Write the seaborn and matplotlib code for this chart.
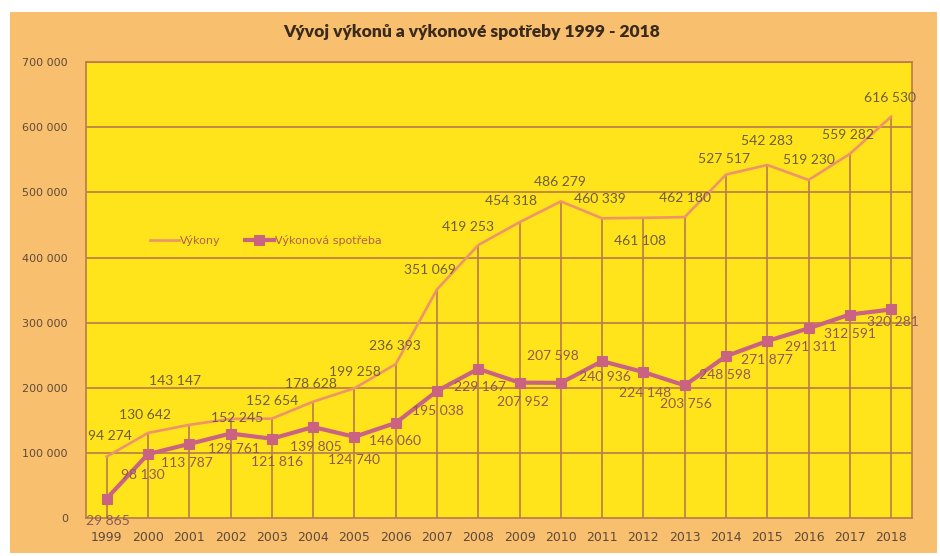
import matplotlib
matplotlib.use("Agg")
import matplotlib.pyplot as plt
import matplotlib.ticker as mticker
from matplotlib.patches import Rectangle
import pandas as pd
import seaborn as sns

# data
years = list(range(1999, 2019))
vykony = [94274, 130642, 143147, 152245, 152654, 178628, 199258, 236393, 351069, 419253,
          454318, 486279, 460339, 461108, 462180, 527517, 542283, 519230, 559282, 616530]
spotreba = [29865, 98130, 113787, 129761, 121816, 139805, 124740, 146060, 195038, 229167,
            207952, 207598, 240936, 224148, 203756, 248598, 271877, 291311, 312591, 320281]

# label offsets in pixels (dx, dy)
vyk_offsets = [(3, 21), (-3, 18), (-14, 44), (7, 1), (0, 18), (-2, 18), (1, 16), (-1, 18),
               (-7, 19), (-10, 18), (-9, 21), (-1, 19), (-2, 19), (-3, -23), (0, 19),
               (-2, 16), (0, 24), (0, 20), (-2, 19), (-1, 19)]
spo_offsets = [(1, -22), (-5, -21), (-2, -19), (3, -15), (5, -23), (3, -20), (0, -23),
               (-1, -18), (1, -20), (2, -18), (3, -19), (-8, 27), (3, -16), (2, -21),
               (1, -19), (-1, -19), (0, -19), (2, -19), (0, -19), (2, -13)]

YELLOW = "#FFE41C"
ORANGE = "#F8C06E"
GRID = "#B87A4C"
C_VYK = "#EE9468"
C_SPO = "#CA6282"
TXT = "#6E5D40"

df = pd.DataFrame({"idx": range(len(years)), "vykony": vykony, "spotreba": spotreba})


def space_thousands(v, pos=None):
    return f"{int(v):,}".replace(",", " ")


fig = plt.figure(figsize=(9.4, 5.56), dpi=100, facecolor="white")
fig.patches.append(Rectangle((0.011, 0.006), 0.986, 0.972, transform=fig.transFigure,
                             facecolor=ORANGE, edgecolor="none", zorder=-10))
ax = fig.add_axes([0.0915, 0.0683, 0.8785, 0.8197])
ax.set_facecolor(YELLOW)

# gridlines and drop lines
for v in range(100000, 700001, 100000):
    ax.axhline(v, color=GRID, linewidth=1.2, zorder=1)
ax.vlines(df["idx"], 0, df["vykony"], color=GRID, linewidth=1.2, zorder=1)

sns.lineplot(data=df, x="idx", y="vykony", color=C_VYK, linewidth=1.9, ax=ax,
             label="Výkony", zorder=3)
sns.lineplot(data=df, x="idx", y="spotreba", color=C_SPO, linewidth=3.0, marker="s",
             markersize=7, markeredgecolor=C_SPO, ax=ax, label="Výkonová spotřeba",
             zorder=4)

for i, (v, off) in enumerate(zip(vykony, vyk_offsets)):
    ax.annotate(space_thousands(v), (i, v), textcoords="offset pixels", xytext=off,
                ha="center", va="center", fontsize=10, color=TXT, zorder=5,
                family="Lato")
for i, (v, off) in enumerate(zip(spotreba, spo_offsets)):
    ax.annotate(space_thousands(v), (i, v), textcoords="offset pixels", xytext=off,
                ha="center", va="center", fontsize=10, color="#8E5A58", zorder=5,
                family="Lato")

ax.set_xlim(-0.5, 19.5)
ax.set_ylim(0, 700000)
ax.set_xticks(range(len(years)))
ax.set_xticklabels([str(y) for y in years])
ax.yaxis.set_major_locator(mticker.MultipleLocator(100000))
ax.yaxis.set_major_formatter(mticker.FuncFormatter(space_thousands))
ax.tick_params(axis="y", length=0, pad=13, labelsize=8, labelcolor="#5E4A3A")
ax.tick_params(axis="x", length=0, pad=9, labelsize=9, labelcolor="#5E4A3A")
ax.set_xlabel("")
ax.set_ylabel("")
for s in ax.spines.values():
    s.set_color(GRID)
    s.set_linewidth(1.2)

leg = ax.legend(loc="center left", bbox_to_anchor=(0.065, 0.61), ncol=2, frameon=False,
                fontsize=8, handlelength=2.6, columnspacing=2.2, handletextpad=0.1)
for t in leg.get_texts():
    t.set_color("#B0604E")

fig.text(0.502, 0.942, "Vývoj výkonů a výkonové spotřeby 1999 - 2018", ha="center",
         va="center", fontsize=12.5, fontweight="heavy", color="#3A2A1E", family="Lato")

fig.savefig("out.png", dpi=100)
